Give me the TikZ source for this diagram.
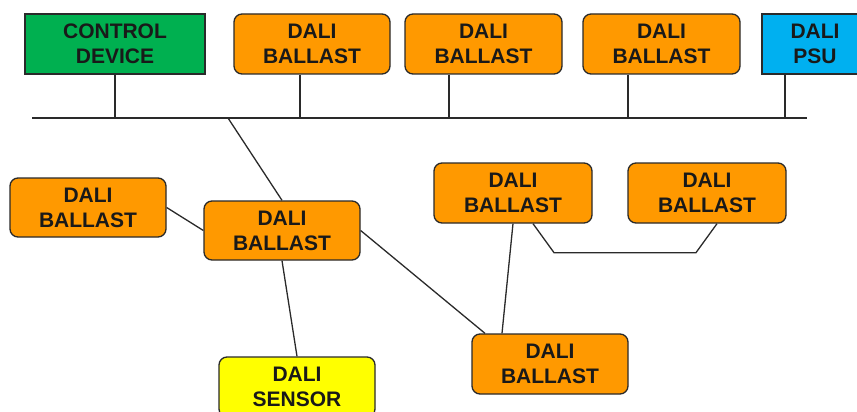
\documentclass[tikz,border=0pt]{standalone}
\usepackage{fontspec}
\setmainfont{Liberation Sans}
\definecolor{dorange}{HTML}{FF9900}
\definecolor{dgreen}{HTML}{00B050}
\definecolor{dblue}{HTML}{00B0F0}
\definecolor{dyellow}{HTML}{FFFF00}
\definecolor{edge}{HTML}{2A2A2A}
\begin{document}
\begin{tikzpicture}[x=1pt,y=-1pt,
  box/.style={draw=edge,line width=1.3pt,minimum height=60pt,minimum width=156pt,
    align=center,inner sep=0pt,font=\fontsize{21}{25}\selectfont\bfseries,text=black!90},
  ballast/.style={box,fill=dorange,rounded corners=8pt},
  wire/.style={draw=edge,line width=1.3pt}]
\useasboundingbox (0,0) rectangle (857,412);
% top row
\node[box,fill=dgreen,minimum width=180pt] (ctrl) at (115,44) {CONTROL\\DEVICE};
\node[ballast] (b1) at (312,44) {DALI\\BALLAST};
\node[ballast,minimum width=157pt] (b2) at (483.5,44) {DALI\\BALLAST};
\node[ballast,minimum width=157pt] (b3) at (661.5,44) {DALI\\BALLAST};
\node[box,fill=dblue,minimum width=106pt] (psu) at (815,44) {DALI\\PSU};
% bus
\coordinate (busL) at (32,118);
\coordinate (busR) at (807,118);
\coordinate (busJ) at (228,118);
\draw[wire] (busL) -- (busR);
\draw[wire] (ctrl.south) -- (ctrl.south |- busL);
\draw[wire] ([xshift=-12pt]b1.south) -- ([xshift=-12pt]b1.south |- busL);
\draw[wire] ([xshift=-34.5pt]b2.south) -- ([xshift=-34.5pt]b2.south |- busL);
\draw[wire] ([xshift=-33.5pt]b3.south) -- ([xshift=-33.5pt]b3.south |- busL);
\draw[wire] ([xshift=-30pt]psu.south) -- ([xshift=-30pt]psu.south |- busL);
% lower part
\node[ballast,minimum height=59pt] (left) at (88,207.5) {DALI\\BALLAST};
\node[ballast,minimum height=59pt] (mid) at (282,230.5) {DALI\\BALLAST};
\node[box,fill=dyellow,rounded corners=8pt] (sensor) at (297,387) {DALI\\SENSOR};
\node[ballast,minimum width=158pt] (ra) at (513,193) {DALI\\BALLAST};
\node[ballast,minimum width=158pt] (rb) at (707,193) {DALI\\BALLAST};
\node[ballast] (bot) at (550,364) {DALI\\BALLAST};
\draw[wire] (busJ) -- (mid.north);
\draw[wire] (left.east) -- (mid.west);
\draw[wire] (mid.south) -- (sensor.north);
\draw[wire] (mid.east) -- ([xshift=-65pt]bot.north);
\draw[wire] (ra.south) -- ([xshift=-48pt]bot.north);
\draw[wire] ([xshift=20pt]ra.south) -- ++(21,29) -- ++(142,0) -- ([xshift=10pt]rb.south);
\end{tikzpicture}
\end{document}
